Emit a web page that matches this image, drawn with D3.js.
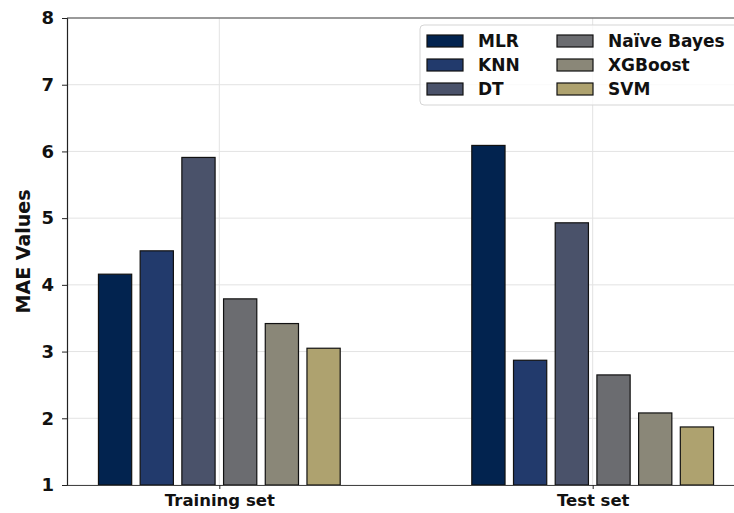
<!DOCTYPE html>
<html>
  <head>
    <meta charset="utf-8" />
    <style>
      body {
        margin: 0;
        background: white;
      }
      text {
        font-family: "DejaVu Sans", sans-serif;
        font-weight: bold;
      }
    </style>
  </head>
  <body>
    <svg width="734" height="513"></svg>
    <script src="https://d3js.org/d3.v7.min.js"></script>
    <script>
      // data
      let groups = ["Training set", "Test set"];
      let models = ["MLR", "KNN", "DT", "Naïve Bayes", "XGBoost", "SVM"];
      let colors = ["#02234f", "#223a6c", "#4a526a", "#6b6c70", "#8a8778", "#aea26f"];
      let trainValues = [4.16, 4.51, 5.91, 3.79, 3.42, 3.05];
      let testValues = [6.09, 2.87, 4.93, 2.65, 2.08, 1.87];
      let yTicks = [1, 2, 3, 4, 5, 6, 7, 8];

      let svg = d3.select("svg");

      // x in group units: 0 = Training set, 1 = Test set
      let x = d3.scaleLinear().domain([-0.408, 1.408]).range([67, 745]);
      let y = d3.scaleLinear().domain([1, 8]).range([485, 18]);

      let step = 0.1117;
      let barW = 0.089;

      // grid
      let grid = svg.append("g");
      grid
        .selectAll(".hgrid")
        .data(yTicks)
        .join("line")
        .attr("x1", x(-0.408))
        .attr("x2", 734)
        .attr("y1", (d) => y(d))
        .attr("y2", (d) => y(d))
        .attr("stroke", "#e3e3e3")
        .attr("stroke-width", 1);
      grid
        .selectAll(".vgrid")
        .data(groups)
        .join("line")
        .attr("x1", (d, i) => x(i))
        .attr("x2", (d, i) => x(i))
        .attr("y1", y(8))
        .attr("y2", y(1))
        .attr("stroke", "#e3e3e3")
        .attr("stroke-width", 1);

      // bars
      let data = [];
      groups.forEach((g, gi) => {
        let vals = gi == 0 ? trainValues : testValues;
        models.forEach((m, mi) => {
          data.push({ group: gi, model: mi, value: vals[mi] });
        });
      });

      svg
        .append("g")
        .selectAll("rect")
        .data(data)
        .join("rect")
        .attr("x", (d) => x(d.group + (d.model - 2.5) * step - barW / 2))
        .attr("width", (d) => x(barW) - x(0))
        .attr("y", (d) => y(d.value))
        .attr("height", (d) => y(1) - y(d.value))
        .attr("fill", (d) => colors[d.model])
        .attr("stroke", "#111")
        .attr("stroke-width", 1.2);

      // axes
      let yAxis = svg
        .append("g")
        .attr("transform", `translate(${x(-0.408)},0)`)
        .call(
          d3
            .axisLeft(y)
            .tickValues(yTicks)
            .tickFormat(d3.format("d"))
            .tickSize(5)
            .tickPadding(8)
        );
      yAxis.select(".domain").attr("stroke", "#222").attr("stroke-width", 1.2);
      yAxis.selectAll(".tick line").attr("stroke", "#222");
      yAxis
        .selectAll(".tick text")
        .style("font-size", "18px")
        .style("font-family", "DejaVu Sans")
        .style("font-weight", "bold")
        .attr("fill", "#111");

      let xAxis = svg
        .append("g")
        .attr("transform", `translate(0,${y(1)})`)
        .call(
          d3
            .axisBottom(x)
            .tickValues([0, 1])
            .tickFormat((d) => groups[d])
            .tickSize(4)
            .tickPadding(5)
            .tickSizeOuter(0)
        );
      xAxis.select(".domain").attr("stroke", "#444").attr("stroke-width", 1.2);
      xAxis.selectAll(".tick line").attr("stroke", "#222");
      xAxis
        .selectAll(".tick text")
        .style("font-size", "16.5px")
        .style("font-family", "DejaVu Sans")
        .style("font-weight", "bold")
        .attr("fill", "#111");

      // top spine
      svg
        .append("line")
        .attr("x1", x(-0.408))
        .attr("x2", 734)
        .attr("y1", y(8))
        .attr("y2", y(8))
        .attr("stroke", "#444")
        .attr("stroke-width", 1.2);

      // y label
      svg
        .append("text")
        .attr("transform", `translate(23,${(y(1) + y(8)) / 2}) rotate(-90)`)
        .attr("text-anchor", "middle")
        .attr("dy", "0.35em")
        .style("font-size", "19px")
        .attr("fill", "#111")
        .text("MAE Values");

      // legend
      let legend = svg.append("g").attr("transform", "translate(420,25)");
      legend
        .append("rect")
        .attr("width", 330)
        .attr("height", 80)
        .attr("rx", 4)
        .attr("fill", "white")
        .attr("fill-opacity", 0.8)
        .attr("stroke", "#d5d5d5");

      let items = legend
        .selectAll(".item")
        .data(models)
        .join("g")
        .attr("transform", (d, i) => {
          let col = Math.floor(i / 3);
          let row = i % 3;
          return `translate(${7 + col * 130},${15 + row * 24})`;
        });
      items
        .append("rect")
        .attr("x", 0)
        .attr("y", -5)
        .attr("width", 36)
        .attr("height", 12)
        .attr("fill", (d, i) => colors[i])
        .attr("stroke", "#111")
        .attr("stroke-width", 1.2);
      items
        .append("text")
        .attr("x", 51)
        .attr("y", 1)
        .attr("dy", "0.35em")
        .style("font-size", "17px")
        .attr("fill", "#111")
        .text((d) => d);
    </script>
  </body>
</html>
